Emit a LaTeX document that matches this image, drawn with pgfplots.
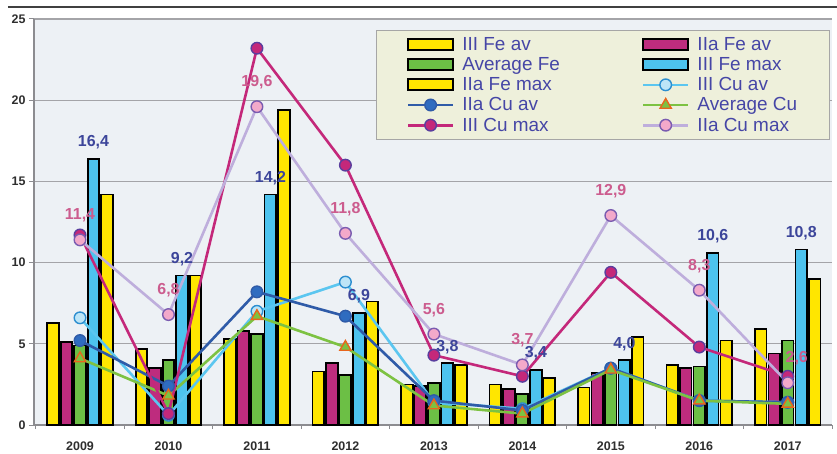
\documentclass[border=0pt]{standalone}
\usepackage{fontspec}
\setmainfont{Liberation Sans}
\usepackage{pgfplots}
\pgfplotsset{compat=1.18}

% palette
\definecolor{feyellow}{HTML}{FFE600}
\definecolor{femagenta}{HTML}{BE2C7E}
\definecolor{fegreen}{HTML}{6CBF45}
\definecolor{fecyan}{HTML}{4DC3EE}
\definecolor{cuav3}{HTML}{5BC6F0}
\definecolor{cuav3fill}{HTML}{BDE5F7}
\definecolor{cuav3edge}{HTML}{2C8ED0}
\definecolor{cuav2}{HTML}{2F5BA8}
\definecolor{cuav2fill}{HTML}{2F6CC0}
\definecolor{cuavg}{HTML}{7DC242}
\definecolor{cuavgedge}{HTML}{E8661C}
\definecolor{cumax3}{HTML}{C4287A}
\definecolor{cumax3edge}{HTML}{5A3E9E}
\definecolor{cumax2}{HTML}{BEAEDC}
\definecolor{cumax2fill}{HTML}{F3A9CA}
\definecolor{cumax2edge}{HTML}{7A5CB0}
\definecolor{plotbg}{HTML}{EDF1F5}
\definecolor{gridgray}{HTML}{A4A4A8}
\definecolor{axisgray}{HTML}{8C8C90}
\definecolor{ticktext}{HTML}{2E2E2E}
\definecolor{legbg}{HTML}{EEF0DB}
\definecolor{legtext}{HTML}{4646A6}
\definecolor{labnavy}{HTML}{3C459A}
\definecolor{labpink}{HTML}{CC5C8E}

\pgfplotsset{
  febar/.style 2 args={ybar, bar width=11.6bp, bar shift=#2, draw=black,
    line width=1.7bp, fill=#1,
    legend image code/.code={\draw[draw=black, line width=1.7bp, fill=#1]
      (0bp,-5.5bp) rectangle (45bp,5.5bp);}},
  culine/.style={sharp plot, line width=2.6bp, mark size=5.8bp},
  lab/.style={draw=none, mark=none, forget plot, point meta=y,
    nodes near coords,
    /pgf/number format/use comma, /pgf/number format/fixed,
    /pgf/number format/fixed zerofill, /pgf/number format/precision=1},
}

\begin{document}
\begin{tikzpicture}
\begin{axis}[
  scale only axis, width=798bp, height=406bp,
  at={(0,0)}, anchor=south west,
  xmin=-0.52, xmax=8.5, ymin=0, ymax=25,
  axis x line*=bottom, axis y line*=left,
  axis line style={draw=axisgray, line width=1.2bp},
  xtick={0,...,8},
  xticklabels={2009,2010,2011,2012,2013,2014,2015,2016,2017},
  minor xtick={-0.5,0.5,...,8.5},
  major x tick style={draw=none},
  minor x tick style={draw=axisgray, line width=1bp},
  minor tick length=4bp,
  ytick={0,5,...,25},
  major y tick style={draw=axisgray, line width=1bp},
  major tick length=5bp,
  tick align=outside,
  ymajorgrids,
  major grid style={draw=gridgray, line width=1.2bp},
  tick label style={font=\fontsize{12.5}{12.5}\selectfont\bfseries, text=ticktext},
  xticklabel style={yshift=-8bp},
  /pgf/number format/assume math mode=true,
  axis background/.style={fill=plotbg},
  legend image code/.code={\draw[mark repeat=2, mark phase=2, #1]
    plot coordinates {(0bp,0bp) (22.5bp,0bp) (45bp,0bp)};},
  legend columns=2,
  legend cell align=left,
  legend style={at={(0.997,0.973)}, anchor=north east,
    fill=legbg, draw=gray!70, line width=1bp,
    font=\fontsize{19}{19}\selectfont, text=legtext,
    inner xsep=30bp, inner ysep=5bp, row sep=1.5bp,
    /tikz/every even column/.append style={column sep=80bp},
    /tikz/every odd column/.append style={column sep=6bp}},
  clip=false,
]
% iron: bars
\addplot[febar={feyellow}{-27bp}] coordinates
  {(0,6.3) (1,4.7) (2,5.3) (3,3.3) (4,2.5) (5,2.5) (6,2.3) (7,3.7) (8,5.9)};
\addlegendentry{III Fe av}
\addplot[febar={femagenta}{-13.5bp}] coordinates
  {(0,5.1) (1,3.5) (2,5.8) (3,3.8) (4,2.4) (5,2.2) (6,3.2) (7,3.5) (8,4.4)};
\addlegendentry{IIa Fe av}
\addplot[febar={fegreen}{0bp}] coordinates
  {(0,4.9) (1,4.0) (2,5.6) (3,3.1) (4,2.6) (5,1.9) (6,3.3) (7,3.6) (8,5.2)};
\addlegendentry{Average Fe}
\addplot[febar={fecyan}{13.5bp}] coordinates
  {(0,16.4) (1,9.2) (2,14.2) (3,6.9) (4,3.8) (5,3.4) (6,4.0) (7,10.6) (8,10.8)};
\addlegendentry{III Fe max}
\addplot[febar={feyellow}{27bp}] coordinates
  {(0,14.2) (1,9.2) (2,19.4) (3,7.6) (4,3.7) (5,2.9) (6,5.4) (7,5.2) (8,9.0)};
\addlegendentry{IIa Fe max}
% copper: lines
\addplot[culine, color=cuav3, mark=*,
  mark options={fill=cuav3fill, draw=cuav3edge, line width=1.4bp}] coordinates
  {(0,6.6) (1,0.6) (2,7.0) (3,8.8) (4,1.4) (5,1.0) (6,3.5) (7,1.5) (8,1.4)};
\addlegendentry{III Cu av}
\addplot[culine, color=cuav2, mark=*,
  mark options={fill=cuav2fill, draw=cuav2, line width=1.4bp}] coordinates
  {(0,5.2) (1,2.4) (2,8.2) (3,6.7) (4,1.5) (5,0.9) (6,3.5) (7,1.5) (8,1.4)};
\addlegendentry{IIa Cu av}
\addplot[culine, color=cuavg, mark=triangle*, mark size=6.5bp,
  mark options={fill=cuavg, draw=cuavgedge, line width=1.4bp}] coordinates
  {(0,4.1) (1,1.8) (2,6.7) (3,4.8) (4,1.2) (5,0.7) (6,3.4) (7,1.5) (8,1.3)};
\addlegendentry{Average Cu}
\addplot[culine, color=cumax3, mark=*,
  mark options={fill=cumax3, draw=cumax3edge, line width=1.4bp}] coordinates
  {(0,11.7) (1,0.7) (2,23.2) (3,16.0) (4,4.3) (5,3.0) (6,9.4) (7,4.8) (8,3.0)};
\addlegendentry{III Cu max}
\addplot[culine, color=cumax2, mark=*,
  mark options={fill=cumax2fill, draw=cumax2edge, line width=1.4bp}] coordinates
  {(0,11.4) (1,6.8) (2,19.6) (3,11.8) (4,5.6) (5,3.7) (6,12.9) (7,8.3) (8,2.6)};
\addlegendentry{IIa Cu max}
% value labels
\addplot[lab, every node near coord/.append style={anchor=base, xshift=13.5bp,
  yshift=12bp, inner sep=0pt, text=labnavy,
  font=\fontsize{16}{16}\selectfont\bfseries}] coordinates
  {(0,16.4) (1,9.2) (2,14.2) (3,6.9) (4,3.8) (5,3.4) (6,4.0) (7,10.6) (8,10.8)};
\addplot[lab, every node near coord/.append style={anchor=base, xshift=0bp,
  yshift=20bp, inner sep=0pt, text=labpink,
  font=\fontsize{16}{16}\selectfont\bfseries}] coordinates
  {(0,11.4) (1,6.8) (2,19.6) (3,11.8) (4,5.6) (5,3.7) (6,12.9) (7,8.3)};
\addplot[lab, every node near coord/.append style={anchor=base, xshift=9bp,
  yshift=20bp, inner sep=0pt, text=labpink,
  font=\fontsize{16}{16}\selectfont\bfseries}] coordinates
  {(8,2.6)};
\end{axis}
% frame rule along the top edge
\draw[line width=2.6bp, color=black!75] (-26bp,418bp) -- (803bp,418bp);
\pgfresetboundingbox
\path (-34bp,-29bp) rectangle (803bp,425bp);
\end{tikzpicture}
\end{document}
